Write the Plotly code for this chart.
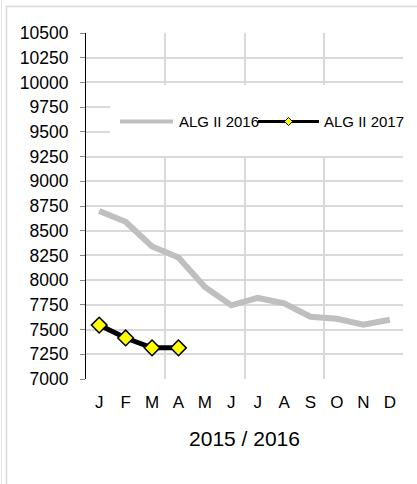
import plotly.graph_objects as go

months = ["J", "F", "M", "A", "M", "J", "J", "A", "S", "O", "N", "D"]
alg_2016 = [8700, 8590, 8340, 8230, 7930, 7745, 7820, 7765, 7630, 7610, 7550, 7600]
alg_2017 = [7545, 7415, 7315, 7315]
name_2016 = "ALG II 2016"
name_2017 = "ALG II 2017"
x_title = "2015 / 2016"
y_ticks = list(range(7000, 10501, 250))
y_ticktext = [str(v) for v in y_ticks]

x_idx = list(range(1, len(months) + 1))

FONT = "Liberation Sans, Arial, sans-serif"
L, R, T, B = 86, 403, 33, 379
W, H = R - L, B - T


def px(xp):
    return (xp - L) / W


def py(yp):
    return (B - yp) / H


fig = go.Figure()
fig.add_trace(go.Scatter(
    x=x_idx, y=alg_2016, name=name_2016, mode="lines",
    line=dict(color="#bfbfbf", width=6), showlegend=False))
fig.add_trace(go.Scatter(
    x=x_idx[:len(alg_2017)], y=alg_2017, name=name_2017, mode="lines+markers",
    line=dict(color="#000000", width=5),
    marker=dict(symbol="diamond", size=12, color="#ffff00",
                line=dict(color="#000000", width=1.5)),
    showlegend=False))

shapes = [
    # outer chart frame
    dict(type="rect", xref="paper", yref="paper", x0=px(6.5), x1=px(440), y0=py(6.5), y1=py(500),
         line=dict(color="#d9d9d9", width=1.5), layer="below"),
    dict(type="line", xref="paper", yref="paper", x0=px(1.5), x1=px(1.5), y0=py(0), y1=py(484),
         line=dict(color="#e6e6e6", width=1), layer="below"),
    # legend background
    dict(type="rect", xref="paper", yref="paper", x0=px(110), x1=px(407), y0=py(85), y1=py(156),
         fillcolor="white", line=dict(width=0), layer="above"),
    # legend samples
    dict(type="line", xref="paper", yref="paper", x0=px(120), x1=px(173), y0=py(121.5), y1=py(121.5),
         line=dict(color="#bfbfbf", width=4), layer="above"),
    dict(type="line", xref="paper", yref="paper", x0=px(258), x1=px(319), y0=py(121.5), y1=py(121.5),
         line=dict(color="#000000", width=3), layer="above"),
    dict(type="path", xref="paper", yref="paper",
         path=f"M {px(284.5)} {py(121.5)} L {px(288.5)} {py(117.5)} L {px(292.5)} {py(121.5)} "
              f"L {px(288.5)} {py(125.5)} Z",
         fillcolor="#ffff00", line=dict(color="#000000", width=1), layer="above"),
]

annotations = [
    dict(text=name_2016, xref="paper", yref="paper", x=px(177), y=py(121.5), xanchor="left",
         yanchor="middle", showarrow=False, font=dict(family=FONT, size=15, color="#000000")),
    dict(text=name_2017, xref="paper", yref="paper", x=px(322), y=py(121.5), xanchor="left",
         yanchor="middle", showarrow=False, font=dict(family=FONT, size=15, color="#000000")),
]

fig.update_layout(
    width=417, height=484,
    margin=dict(l=L, r=417 - R, t=T, b=484 - B, pad=0, autoexpand=False),
    paper_bgcolor="white", plot_bgcolor="white",
    font=dict(family=FONT, color="#000000"),
    showlegend=False,
    shapes=shapes, annotations=annotations,
)
fig.update_xaxes(
    automargin=False,
    range=[0.5, 12.5], tickmode="array", tickvals=x_idx, ticktext=months,
    showgrid=False, zeroline=False, showline=False, ticks="",
    tickfont=dict(family=FONT, size=17, color="#000000"),
    ticklabelstandoff=11,
    minor=dict(tickmode="array", tickvals=[0.5, 3.5, 6.5, 9.5, 12.5], showgrid=True,
               gridcolor="#d9d9d9", gridwidth=2, ticks=""),
    title=dict(text=x_title, font=dict(family=FONT, size=21, color="#000000"), standoff=20),
)
fig.update_yaxes(
    automargin=False,
    range=[7000, 10500], tickmode="array", tickvals=y_ticks, ticktext=y_ticktext,
    showgrid=True, gridcolor="#d9d9d9", gridwidth=2, zeroline=False,
    showline=True, linecolor="#000000", linewidth=1,
    ticks="outside", ticklen=5, tickcolor="#868686", tickwidth=1,
    tickfont=dict(family=FONT, size=17.5, color="#000000"),
    ticklabelstandoff=8,
)

fig.write_html("out.html", config={"displayModeBar": False},
               post_script="document.body.style.margin='0';")
